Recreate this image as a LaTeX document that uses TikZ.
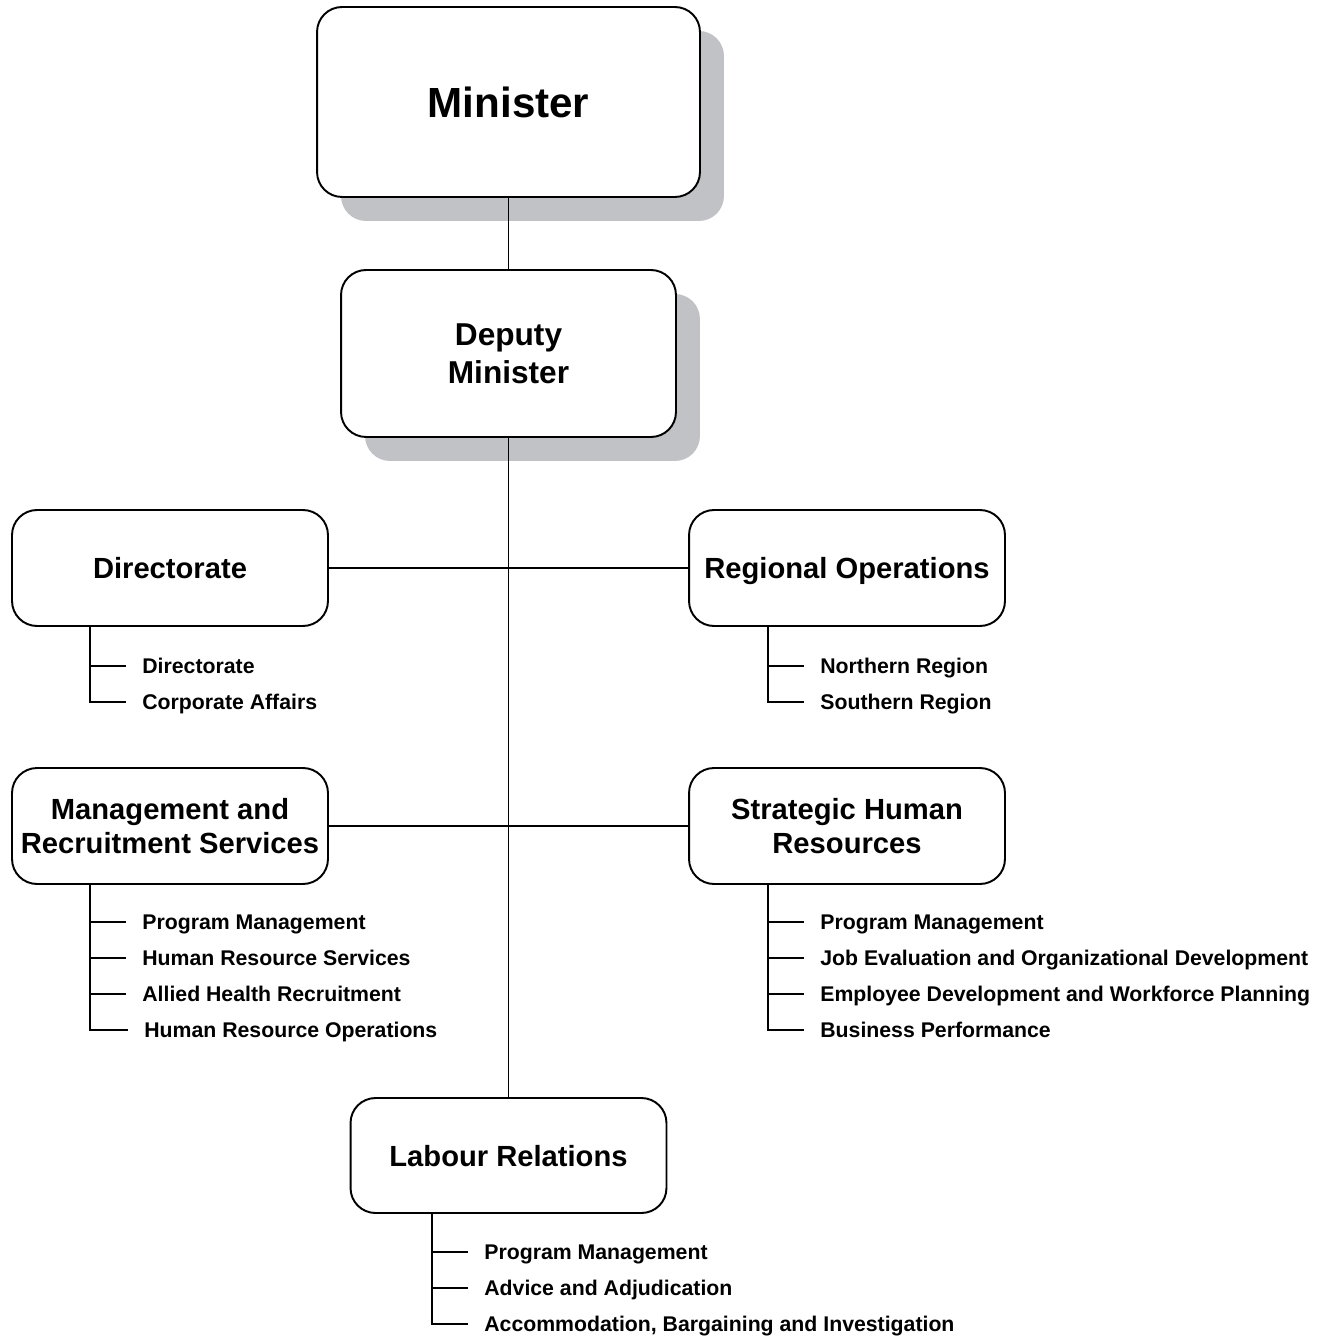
\documentclass[tikz,border=0pt]{standalone}
\usepackage{fontspec}
\setmainfont{Liberation Sans}
\usetikzlibrary{shadows}
\definecolor{shadowgray}{HTML}{C1C2C6}

\begin{document}
\begin{tikzpicture}[
  x=0.02cm, y=-0.02cm,
  box/.style={rectangle, rounded corners=0.5cm, draw, line width=1.1pt, fill=white, align=center, inner sep=0pt,
    text depth=0pt, minimum width=6.32cm, minimum height=2.32cm, font=\bfseries\fontsize{16.6}{19.8}\selectfont},
  topbox/.style={box, drop shadow={shadow xshift=0.48cm, shadow yshift=-0.48cm, fill=shadowgray, opacity=1}},
  item/.style={anchor=west, inner xsep=0.32cm, inner ysep=0pt, text height=8.6pt, text depth=0pt,
    font=\bfseries\fontsize{12.1}{14}\selectfont},
  link/.style={line width=0.6pt},
  tick/.style={line width=0.9pt}
]
\useasboundingbox (0,0) rectangle (1331,1337);

% Top of the chart
\node[topbox, minimum width=7.66cm, minimum height=3.8cm, font=\bfseries\fontsize{24}{28}\selectfont] (min) at (508.5,102) {Minister};
\node[topbox, minimum width=6.7cm, minimum height=3.34cm, font=\bfseries\fontsize{18}{21.5}\selectfont] (dep) at (508.5,353.5) {Deputy\\Minister};

% Branches
\node[box] (dir) at (170,568) {Directorate};
\node[box] (reg) at (847,568) {Regional Operations};
\node[box] (mrs) at (170,826) {Management and\\Recruitment Services};
\node[box] (shr) at (847,826) {Strategic Human\\Resources};
\node[box, minimum height=2.3cm] (lab) at (508.5,1155.5) {Labour Relations};

% Main lines
\draw[link] (min) -- (dep);
\draw[link] (dep) -- (lab);
\draw[link] (dir) -- (reg);
\draw[link] (mrs) -- (shr);

% Units under Directorate
\node[item] (d1) at (126,666) {Directorate};
\node[item] (d2) at (126,702) {Corporate Affairs};
\draw[tick] (d2.west) -| ([xshift=-0.72cm]d2.west |- dir.south);
\draw[tick] ([xshift=-0.72cm]d1.west) -- (d1.west);

% Units under Regional Operations
\node[item] (r1) at (804,666) {Northern Region};
\node[item] (r2) at (804,702) {Southern Region};
\draw[tick] (r2.west) -| ([xshift=-0.72cm]r2.west |- reg.south);
\draw[tick] ([xshift=-0.72cm]r1.west) -- (r1.west);

% Units under Management and Recruitment Services
\node[item] (m1) at (126,922) {Program Management};
\node[item] (m2) at (126,958) {Human Resource Services};
\node[item] (m3) at (126,994) {Allied Health Recruitment};
\node[item] (m4) at (128,1030) {Human Resource Operations};
\draw[tick] (m4.west) -| ([xshift=-0.76cm]m4.west |- mrs.south);
\draw[tick] ([xshift=-0.72cm]m1.west) -- (m1.west);
\draw[tick] ([xshift=-0.72cm]m2.west) -- (m2.west);
\draw[tick] ([xshift=-0.72cm]m3.west) -- (m3.west);

% Units under Strategic Human Resources
\node[item] (s1) at (804,922) {Program Management};
\node[item] (s2) at (804,958) {Job Evaluation and Organizational Development};
\node[item] (s3) at (804,994) {Employee Development and Workforce Planning};
\node[item] (s4) at (804,1030) {Business Performance};
\draw[tick] (s4.west) -| ([xshift=-0.72cm]s4.west |- shr.south);
\draw[tick] ([xshift=-0.72cm]s1.west) -- (s1.west);
\draw[tick] ([xshift=-0.72cm]s2.west) -- (s2.west);
\draw[tick] ([xshift=-0.72cm]s3.west) -- (s3.west);

% Units under Labour Relations
\node[item] (l1) at (468,1252) {Program Management};
\node[item] (l2) at (468,1288) {Advice and Adjudication};
\node[item] (l3) at (468,1324) {Accommodation, Bargaining and Investigation};
\draw[tick] (l3.west) -| ([xshift=-0.72cm]l3.west |- lab.south);
\draw[tick] ([xshift=-0.72cm]l1.west) -- (l1.west);
\draw[tick] ([xshift=-0.72cm]l2.west) -- (l2.west);

\end{tikzpicture}
\end{document}
